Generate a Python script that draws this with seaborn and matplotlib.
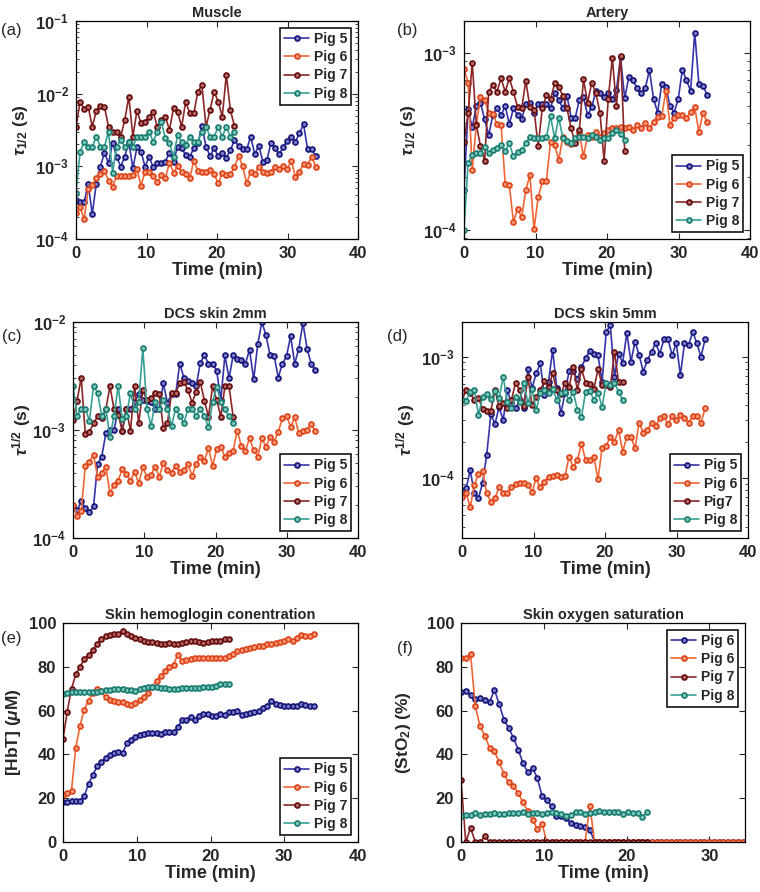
import numpy as np
import pandas as pd
import seaborn as sns
import matplotlib.pyplot as plt
from matplotlib.ticker import LogLocator, NullFormatter, FixedLocator

# ---- data (time step between scans ~0.576 min) ----
scan_dt = 34 / 59
pigs = ["Pig 5", "Pig 6", "Pig 7", "Pig 8"]

# (a) Muscle, tau_1/2 (s)
muscle_p5 = [3.4e-4, 3.2e-4, 3.2e-4, 5.8e-4, 2.2e-4, 5.8e-4, 9.9e-4, 1.54e-3, 1.1e-3, 2.12e-3,
             1.36e-3, 9.9e-4, 1.36e-3, 2.18e-3, 9.4e-4, 1.82e-3, 1.59e-3, 9.9e-4, 1.36e-3, 9.7e-4,
             1.1e-3, 1.1e-3, 1.16e-3, 1.54e-3, 1.16e-3, 1.87e-3, 1.77e-3, 1.43e-3, 1.36e-3, 1.77e-3,
             2.07e-3, 3.59e-3, 1.87e-3, 1.39e-3, 1.77e-3, 1.39e-3, 1.54e-3, 1.32e-3, 1.66e-3, 2.3e-3,
             1.91e-3, 1.71e-3, 1.71e-3, 2.56e-3, 1.48e-3, 1.91e-3, 1.16e-3, 1.22e-3, 2.12e-3, 1.77e-3,
             1.48e-3, 1.82e-3, 2.26e-3, 2.56e-3, 2.18e-3, 2.84e-3, 3.83e-3, 1.71e-3, 1.71e-3, 1.39e-3]
muscle_p6 = [2.3e-4, 2.73e-4, 1.87e-4, 4.82e-4, 5.53e-4, 6.84e-4, 7.84e-4, 8.71e-4, 6.35e-4, 5.25e-4,
             7.36e-4, 7.36e-4, 7.36e-4, 7.36e-4, 7.6e-4, 9.1e-4, 5.42e-4, 8.45e-4, 8.45e-4, 7.36e-4,
             6.03e-4, 7.6e-4, 6.84e-4, 1.12e-3, 8.2e-4, 1.01e-3, 8.45e-4, 7.76e-4, 6.84e-4, 1.2e-3,
             8.71e-4, 8.45e-4, 8.45e-4, 8.9e-4, 7.84e-4, 5.83e-4, 8.0e-4, 7.6e-4, 7.84e-4, 9.7e-4,
             1.39e-3, 1.01e-3, 5.83e-4, 8.45e-4, 7.84e-4, 9.9e-4, 8.45e-4, 8.2e-4, 8.45e-4, 9.7e-4,
             9.1e-4, 1.01e-3, 9.1e-4, 1.2e-3, 7.2e-4, 8.45e-4, 1.08e-3, 1.04e-3, 1.36e-3, 9.9e-4]
muscle_p7 = [3.44e-3, 7.76e-3, 6.08e-3, 6.62e-3, 3.51e-3, 5.77e-3, 6.76e-3, 6.62e-3, 3.51e-3, 3.0e-3,
             2.94e-3, 2.56e-3, 4.34e-3, 9.1e-3, 2.56e-3, 5.83e-3, 3.91e-3, 4.12e-3, 4.82e-3, 5.65e-3,
             3.51e-3, 4.34e-3, 4.82e-3, 3.16e-3, 6.28e-3, 5.65e-3, 3.51e-3, 7.76e-3, 5.36e-3, 5.36e-3,
             1.07e-2, 1.30e-2, 3.51e-3, 5.96e-3, 1.07e-2, 7.76e-3, 4.82e-3, 1.81e-2, 5.96e-3, 3.59e-3]
muscle_p8 = [4.35e-4, 1.56e-3, 2.18e-3, 1.87e-3, 1.87e-3, 2.56e-3, 1.87e-3, 1.87e-3, 3.0e-3, 8.2e-4,
             1.87e-3, 2.3e-3, 1.87e-3, 2.18e-3, 1.87e-3, 2.56e-3, 2.56e-3, 2.56e-3, 3.0e-3, 2.18e-3,
             3.0e-3, 4.1e-3, 2.43e-3, 2.07e-3, 1.36e-3, 2.7e-3, 2.18e-3, 1.97e-3, 2.56e-3, 2.18e-3,
             2.18e-3, 3.0e-3, 3.5e-3, 2.56e-3, 2.56e-3, 3.5e-3, 2.56e-3, 3.5e-3, 2.56e-3, 3.0e-3]

# (b) Artery, tau_1/2 (s)
artery_p5 = [1.68e-4, 4.79e-4, 3.79e-4, 5.0e-4, 5.22e-4, 4.21e-4, 3.43e-4, 4.45e-4, 4.85e-4, 4.45e-4,
             5.0e-4, 3.96e-4, 4.85e-4, 4.45e-4, 4.21e-4, 5.14e-4, 5.22e-4, 4.55e-4, 5.14e-4, 5.14e-4,
             5.14e-4, 4.85e-4, 5.94e-4, 5.41e-4, 4.85e-4, 5.7e-4, 4.31e-4, 4.31e-4, 5.41e-4, 5.6e-4,
             4.45e-4, 4.92e-4, 6.1e-4, 5.9e-4, 5.6e-4, 5.94e-4, 5.46e-4, 6.16e-4, 9.4e-4, 5.52e-4,
             7.3e-4, 7.0e-4, 6.3e-4, 5.9e-4, 6.3e-4, 8.0e-4, 5.5e-4, 4.6e-4, 6.7e-4, 6.4e-4,
             5.0e-4, 4.6e-4, 5.5e-4, 8.0e-4, 7.0e-4, 6.1e-4, 1.3e-3, 6.7e-4, 6.5e-4, 5.8e-4]
artery_p6 = [8.05e-4, 6.78e-4, 2.18e-4, 3.96e-4, 5.6e-4, 5.41e-4, 4.59e-4, 4.51e-4, 3.96e-4, 3.91e-4,
             1.82e-4, 1.79e-4, 1.11e-4, 1.31e-4, 1.18e-4, 1.68e-4, 2.04e-4, 1.01e-4, 1.53e-4, 1.88e-4,
             1.88e-4, 3.15e-4, 3.01e-4, 2.48e-4, 3.36e-4, 3.15e-4, 3.06e-4, 3.24e-4, 3.51e-4, 2.6e-4,
             3.43e-4, 3.33e-4, 3.59e-4, 3.36e-4, 3.54e-4, 3.66e-4, 3.74e-4, 3.74e-4, 3.79e-4, 3.74e-4,
             3.79e-4, 3.66e-4, 3.91e-4, 3.74e-4, 4.0e-4, 3.74e-4, 4.08e-4, 4.35e-4, 4.4e-4, 6.1e-4,
             3.91e-4, 4.27e-4, 4.45e-4, 4.45e-4, 4.27e-4, 4.65e-4, 4.92e-4, 3.59e-4, 4.55e-4, 4.08e-4]
artery_p7 = [3.15e-4, 4.55e-4, 8.78e-4, 3.91e-4, 2.98e-4, 2.46e-4, 6.03e-4, 6.57e-4, 6.03e-4, 7.17e-4,
             6.03e-4, 7.17e-4, 6.03e-4, 4.92e-4, 4.85e-4, 6.95e-4, 4.92e-4, 4.75e-4, 2.98e-4, 4.85e-4,
             5.77e-4, 5.46e-4, 6.71e-4, 6.43e-4, 5.7e-4, 4.85e-4, 3.74e-4, 3.08e-4, 3.66e-4, 7.08e-4,
             5.22e-4, 6.78e-4, 5.94e-4, 4.59e-4, 2.46e-4, 5.46e-4, 9.3e-4, 5.0e-4, 9.6e-4, 2.8e-4]
artery_p8 = [1.0e-4, 2.4e-4, 2.65e-4, 2.73e-4, 2.73e-4, 2.95e-4, 2.73e-4, 2.82e-4, 2.92e-4, 3.01e-4,
             2.8e-4, 3.08e-4, 2.6e-4, 2.77e-4, 2.82e-4, 3.1e-4, 3.33e-4, 3.29e-4, 3.29e-4, 3.29e-4,
             3.33e-4, 4.4e-4, 3.29e-4, 4.3e-4, 3.29e-4, 3.19e-4, 3.1e-4, 3.29e-4, 3.33e-4, 3.33e-4,
             3.29e-4, 3.43e-4, 3.33e-4, 3.24e-4, 3.29e-4, 3.29e-4, 3.51e-4, 3.66e-4, 3.47e-4, 3.24e-4]

# (c) DCS skin 2mm
skin2_p5 = [1.96e-4, 1.8e-4, 2.18e-4, 1.89e-4, 1.73e-4, 1.96e-4, 4.85e-4, 5.67e-4, 9.31e-4, 1.0e-3,
            1.0e-3, 1.55e-3, 9.86e-4, 1.55e-3, 1.55e-3, 1.83e-3, 2.15e-3, 1.89e-3, 1.87e-3, 1.83e-3,
            1.55e-3, 1.58e-3, 2.7e-3, 1.79e-3, 2.15e-3, 2.15e-3, 4.12e-3, 3.06e-3, 2.85e-3, 2.73e-3,
            2.55e-3, 4.18e-3, 4.92e-3, 4.12e-3, 4.12e-3, 3.53e-3, 1.89e-3, 4.92e-3, 3.0e-3, 4.92e-3,
            4.59e-3, 4.49e-3, 4.12e-3, 5.56e-3, 2.94e-3, 6.22e-3, 1.0e-2, 7.53e-3, 4.92e-3, 4.82e-3,
            3.06e-3, 4.12e-3, 4.82e-3, 7.38e-3, 4.12e-3, 5.68e-3, 9.8e-3, 5.68e-3, 4.12e-3, 3.63e-3]
skin2_p6 = [2.03e-4, 1.61e-4, 1.76e-4, 4.66e-4, 5.1e-4, 5.88e-4, 3.7e-4, 4.04e-4, 4.59e-4, 2.6e-4,
            3.1e-4, 3.4e-4, 4.34e-4, 3.93e-4, 3.4e-4, 4.12e-4, 3.22e-4, 4.52e-4, 3.7e-4, 3.85e-4,
            4.59e-4, 3.7e-4, 4.92e-4, 4.22e-4, 4.04e-4, 4.66e-4, 4.12e-4, 4.27e-4, 4.85e-4, 3.76e-4,
            4.85e-4, 5.67e-4, 5.21e-4, 6.78e-4, 4.66e-4, 6.64e-4, 7.02e-4, 5.67e-4, 6.18e-4, 6.45e-4,
            9.86e-4, 7.1e-4, 6.45e-4, 8.37e-4, 6.53e-4, 5.67e-4, 8.37e-4, 7.02e-4, 8.67e-4, 7.8e-4,
            9.66e-4, 1.28e-3, 1.35e-3, 1.07e-3, 1.31e-3, 9.31e-4, 9.86e-4, 1.01e-3, 1.14e-3, 9.86e-4]
skin2_p7 = [1.25e-3, 1.87e-3, 3.06e-3, 9.18e-4, 9.66e-4, 1.15e-3, 1.35e-3, 1.28e-3, 1.55e-3, 2.55e-3,
            1.55e-3, 1.38e-3, 9.86e-4, 1.55e-3, 9.86e-4, 2.55e-3, 1.15e-3, 2.34e-3, 1.89e-3, 1.96e-3,
            2.18e-3, 2.15e-3, 1.04e-3, 1.15e-3, 2.21e-3, 2.21e-3, 2.7e-3, 2.79e-3, 2.34e-3, 1.79e-3,
            2.26e-3, 2.79e-3, 1.87e-3, 1.33e-3, 2.55e-3, 1.89e-3, 1.33e-3, 2.55e-3, 2.55e-3, 1.33e-3]
skin2_p8 = [2.55e-3, 1.35e-3, 1.58e-3, 1.58e-3, 1.22e-3, 2.55e-3, 2.21e-3, 1.35e-3, 1.58e-3, 8.55e-4,
            1.35e-3, 2.55e-3, 1.26e-3, 1.35e-3, 2.21e-3, 1.58e-3, 1.83e-3, 5.7e-3, 1.58e-3, 1.09e-3,
            1.83e-3, 1.58e-3, 1.89e-3, 1.58e-3, 1.09e-3, 1.58e-3, 1.35e-3, 1.15e-3, 1.58e-3, 1.58e-3,
            1.35e-3, 1.58e-3, 1.35e-3, 1.06e-3, 1.83e-3, 2.5e-3, 1.83e-3, 1.55e-3, 1.35e-3, 1.15e-3]

# (d) DCS skin 5mm
skin5_p5 = [7.92e-5, 8.28e-5, 1.16e-4, 7.54e-5, 6.86e-5, 9.2e-5, 1.56e-4, 3.36e-4, 2.8e-4, 3.84e-4,
            3.01e-4, 5.32e-4, 4.13e-4, 3.76e-4, 4.4e-4, 3.76e-4, 7.87e-4, 5.5e-4, 7.3e-4, 8.81e-4,
            4.84e-4, 6.23e-4, 1.14e-3, 5.5e-4, 3.42e-4, 5.0e-4, 7.67e-4, 7.67e-4, 6.52e-4, 8.28e-4,
            9.69e-4, 1.12e-3, 1.06e-3, 1.03e-3, 6.23e-4, 1.6e-3, 1.82e-3, 6.85e-4, 1.06e-3, 8.93e-4,
            1.57e-3, 9.1e-4, 1.33e-3, 1.03e-3, 7.53e-4, 9.4e-4, 1.1e-3, 1.29e-3, 1.06e-3, 1.39e-3,
            1.39e-3, 1.03e-3, 1.29e-3, 7.07e-4, 1.29e-3, 1.25e-3, 1.6e-3, 1.29e-3, 1.0e-3, 1.39e-3]
skin5_p6 = [7.06e-5, 7.62e-5, 5.78e-5, 8.81e-5, 1.09e-4, 1.14e-4, 7.54e-5, 6.43e-5, 6.86e-5, 8.43e-5,
            7.62e-5, 7.62e-5, 8.55e-5, 8.97e-5, 9.2e-5, 9.2e-5, 8.81e-5, 7.76e-5, 1.0e-4, 8.43e-5,
            9.4e-5, 1.03e-4, 1.05e-4, 1.06e-4, 1.02e-4, 1.05e-4, 1.51e-4, 1.23e-4, 1.42e-4, 1.91e-4,
            1.42e-4, 1.42e-4, 1.51e-4, 9.82e-5, 1.77e-4, 1.85e-4, 2.2e-4, 2.0e-4, 2.49e-4, 1.66e-4,
            2.2e-4, 2.2e-4, 1.77e-4, 2.87e-4, 2.37e-4, 2.49e-4, 2.87e-4, 2.69e-4, 3.11e-4, 3.25e-4,
            2.8e-4, 3.25e-4, 3.01e-4, 3.32e-4, 3.11e-4, 2.87e-4, 3.25e-4, 3.25e-4, 2.87e-4, 3.76e-4]
skin5_p7 = [4.4e-4, 5.3e-4, 5.0e-4, 4.4e-4, 4.6e-4, 3.7e-4, 3.6e-4, 3.6e-4, 5.3e-4, 3.9e-4,
            4.2e-4, 3.8e-4, 4.4e-4, 6.1e-4, 5.3e-4, 3.9e-4, 6.8e-4, 4.0e-4, 4.7e-4, 5.3e-4,
            6.3e-4, 5.6e-4, 7.3e-4, 5.3e-4, 4.9e-4, 6.1e-4, 5.6e-4, 8.3e-4, 5.3e-4, 7.9e-4,
            6.1e-4, 6.0e-4, 5.4e-4, 7.9e-4, 5.9e-4, 5.9e-4, 5.6e-4, 1.1e-3, 6.2e-4, 6.2e-4]
skin5_p8 = [4.4e-4, 4.35e-4, 5.15e-4, 5.32e-4, 3.32e-4, 4.63e-4, 4.93e-4, 4.46e-4, 5.26e-4, 4.55e-4,
            6.85e-4, 4.27e-4, 3.76e-4, 4.63e-4, 4.27e-4, 6.11e-4, 4.18e-4, 5.39e-4, 3.65e-4, 5.0e-4,
            5.32e-4, 5.06e-4, 5.39e-4, 4.4e-4, 5.06e-4, 5.15e-4, 4.4e-4, 5.15e-4, 3.65e-4, 3.21e-4,
            5.15e-4, 5.26e-4, 4.4e-4, 5.06e-4, 3.88e-4, 6.11e-4, 5.85e-4, 6.11e-4, 5.15e-4, 4.4e-4]

# (e) skin total hemoglobin, uM
hbt_p5 = [18.3, 18.3, 18.5, 18.6, 18.5, 21.0, 26.5, 30.5, 34.5, 36.5,
          38.5, 39.5, 40.5, 41.2, 40.5, 45.0, 46.5, 48.0, 49.0, 49.5,
          50.0, 50.0, 50.0, 49.3, 50.2, 50.2, 50.2, 52.5, 55.5, 55.5,
          57.0, 55.5, 57.5, 58.5, 58.5, 57.5, 57.5, 58.5, 58.0, 59.5,
          59.5, 60.0, 58.0, 58.5, 59.0, 59.5, 60.0, 61.0, 62.0, 64.5,
          63.0, 62.5, 62.3, 62.3, 62.3, 62.3, 62.8, 62.6, 62.3, 62.0]
hbt_p6 = [21.5, 22.5, 23.5, 43.0, 53.0, 60.5, 64.5, 68.0, 70.0, 69.0,
          66.0, 65.0, 64.5, 64.0, 64.0, 63.0, 62.5, 63.5, 65.0, 66.0,
          68.0, 71.0, 73.5, 76.0, 78.0, 80.0, 81.0, 85.5, 82.5, 83.0,
          83.5, 83.8, 84.0, 84.0, 84.2, 84.0, 84.0, 84.0, 84.0, 85.0,
          86.0, 87.0, 87.5, 88.2, 88.5, 89.0, 89.5, 89.5, 90.5, 90.5,
          91.0, 91.5, 92.0, 92.5, 92.0, 93.0, 94.5, 94.0, 94.0, 95.0]
hbt_p7 = [47.0, 59.5, 70.0, 76.5, 80.0, 83.5, 85.5, 87.5, 90.5, 92.5,
          94.0, 94.5, 95.0, 95.0, 96.5, 95.0, 94.0, 93.0, 92.5, 92.0,
          91.5, 91.5, 91.0, 90.5, 90.5, 91.0, 90.5, 90.5, 91.0, 91.5,
          92.0, 92.0, 91.5, 91.0, 91.5, 92.0, 92.0, 92.0, 92.5, 92.5]
hbt_p8 = [67.5, 68.0, 68.5, 68.5, 68.7, 68.7, 68.5, 68.5, 68.7, 69.0,
          69.5, 69.5, 70.0, 70.0, 69.7, 69.5, 69.5, 69.0, 70.0, 70.5,
          70.7, 70.7, 71.0, 70.5, 70.5, 70.0, 70.0, 70.0, 70.3, 70.3,
          70.3, 70.5, 70.5, 70.8, 71.0, 71.0, 71.2, 72.0, 72.3, 72.3]

# (f) skin oxygen saturation, %
sto2_p5 = [68.3, 68.8, 67.3, 65.3, 65.8, 65.0, 63.8, 69.6, 63.0, 55.9,
           52.0, 47.5, 42.2, 36.0, 31.8, 33.8, 29.2, 20.9, 19.0, 16.3,
           12.0, 11.7, 11.0, 8.7, 7.9, 7.2, 6.7, 5.6, 0.0, 0.0,
           0.0, 0.0, 0.0, 0.0, 0.0, 0.0, 0.0, 0.0, 0.0, 0.0,
           0.0, 0.0, 0.0, 0.0, 0.0, 0.0, 0.0, 0.0, 0.0, 0.0,
           0.0, 0.0, 0.0, 0.0, 0.0, 0.0, 0.0, 0.0, 0.0, 0.0]
sto2_p6 = [84.0, 84.0, 86.0, 62.0, 52.8, 48.5, 42.9, 41.4, 36.5, 31.0,
           27.2, 25.4, 22.4, 18.1, 14.0, 10.2, 5.9, 8.2, 0.0, 0.0,
           0.0, 0.0, 0.0, 0.0, 0.0, 0.0, 0.0, 16.5, 0.0, 0.0,
           0.0, 0.0, 0.0, 0.0, 0.0, 0.0, 0.0, 0.0, 0.0, 0.0,
           0.0, 0.0, 0.0, 0.0, 0.0, 0.0, 0.0, 0.0, 0.0, 0.0,
           0.0, 0.0, 0.0, 0.0, 0.0, 0.0, 0.0, 0.0, 0.0, 0.0]
sto2_p7 = [28.2, 0.0, 6.4, 0.0, 0.0, 2.6, 0.0, 0.0, 0.0, 0.0,
           0.0, 0.0, 0.0, 0.0, 0.0, 0.0, 0.0, 0.0, 0.0, 0.0,
           0.0, 0.0, 0.0, 0.0, 0.0, 0.0, 0.0, 0.0, 0.0, 0.0,
           0.0, 0.0, 0.0, 0.0, 0.0, 0.0, 0.0, 0.0, 0.0, 0.0]
sto2_p8 = [11.9, 12.3, 12.3, 13.2, 12.3, 12.9, 12.9, 13.2, 12.6, 12.6,
           13.2, 13.2, 13.2, 13.5, 12.9, 13.2, 13.2, 12.9, 13.2, 13.5,
           13.2, 12.6, 11.8, 12.3, 13.5, 13.5, 12.9, 13.2, 13.5, 14.0,
           13.5, 13.5, 13.8, 13.5, 12.9, 13.5, 13.2, 13.2, 11.2, 13.8]

# line colour, marker edge, marker face per pig
line_cols = ["#3434a6", "#ee6636", "#8a2626", "#36a094"]
edge_cols = ["#16167a", "#de4418", "#660c0c", "#1a7c70"]
face_cols = ["#7c7cc4", "#f59a7c", "#b06868", "#7cc6bb"]

# ---- style ----
sns.set_style("ticks")
plt.rcParams["font.family"] = ["Liberation Sans", "DejaVu Sans"]
plt.rcParams["font.weight"] = "bold"
plt.rcParams["axes.labelweight"] = "bold"
plt.rcParams["axes.titleweight"] = "bold"
plt.rcParams["mathtext.fontset"] = "custom"
plt.rcParams["mathtext.rm"] = "Liberation Sans:bold"
plt.rcParams["mathtext.bf"] = "Liberation Sans:bold"
plt.rcParams["mathtext.it"] = "Liberation Sans:italic"
plt.rcParams["axes.linewidth"] = 0.9
plt.rcParams["axes.edgecolor"] = "black"

W, H = 760, 892
fig = plt.figure(figsize=(W / 100, H / 100), dpi=100)


def add_panel(left, top, right, bottom):
    return fig.add_axes([left / W, 1 - bottom / H, (right - left) / W, (bottom - top) / H])


def draw(ax, series, names, log=False):
    if log:
        ax.set_yscale("log")
    for i, vals in enumerate(series):
        t = np.arange(len(vals)) * scan_dt
        sns.lineplot(x=t, y=vals, ax=ax, color=line_cols[i], lw=1.2,
                     marker="o", ms=3.6, mew=1.2, mec=edge_cols[i], mfc=face_cols[i],
                     label=names[i], estimator=None)


def finish(ax, title, ylabel, ylab_x, xlim, ylim, legend_loc, log=False, xticks=None):
    ax.set_xlim(*xlim)
    ax.set_ylim(*ylim)
    ax.set_title(title, fontsize=10.5, pad=3)
    ax.set_xlabel("Time (min)", fontsize=13, labelpad=1)
    ax.set_ylabel(ylabel, fontsize=12.5)
    ax.yaxis.set_label_coords(ylab_x, 0.5)
    if xticks is not None:
        ax.xaxis.set_major_locator(FixedLocator(xticks))
    if log:
        ax.yaxis.set_major_locator(LogLocator(base=10, numticks=10))
        ax.yaxis.set_minor_locator(LogLocator(base=10, subs=np.arange(2, 10), numticks=20))
        ax.yaxis.set_minor_formatter(NullFormatter())
    ax.tick_params(which="major", direction="in", length=4, width=0.8, top=True, right=True,
                   labelsize=12, pad=5)
    ax.tick_params(which="minor", direction="in", length=2.2, width=0.6, top=True, right=True)
    for lab in ax.get_xticklabels() + ax.get_yticklabels():
        lab.set_fontweight("bold")
    leg = ax.legend(loc=legend_loc, frameon=True, fancybox=False, edgecolor="black",
                    framealpha=1, fontsize=10, handlelength=1.8, handletextpad=0.3,
                    borderpad=0.3, labelspacing=0.3, borderaxespad=0.5)
    leg.get_frame().set_linewidth(1.1)
    for txt in leg.get_texts():
        txt.set_fontweight("bold")


tau_sub = r"$\tau_{\mathbf{1/2}}$ (s)"
tau_sup = r"$\tau^{\mathbf{1/2}}$ (s)"

# (a)
ax = add_panel(76, 21, 358, 239)
draw(ax, [muscle_p5, muscle_p6, muscle_p7, muscle_p8], pigs, log=True)
finish(ax, "Muscle", tau_sub, -0.163, (0, 40), (1e-4, 1e-1), "upper right", log=True)

# (b)
ax = add_panel(464, 21, 750, 239)
draw(ax, [artery_p5, artery_p6, artery_p7, artery_p8], pigs, log=True)
finish(ax, "Artery", tau_sub, -0.161, (0, 40), (8.9e-5, 1.51e-3), "lower right", log=True)

# (c)
ax = add_panel(73, 322, 358, 538)
draw(ax, [skin2_p5, skin2_p6, skin2_p7, skin2_p8], pigs, log=True)
finish(ax, "DCS skin 2mm", tau_sup, -0.140, (0, 40), (1e-4, 1e-2), "lower right", log=True)

# (d)
ax = add_panel(462, 322, 748, 538)
draw(ax, [skin5_p5, skin5_p6, skin5_p7, skin5_p8], ["Pig 5", "Pig 6", "Pig7", "Pig 8"], log=True)
finish(ax, "DCS skin 5mm", tau_sup, -0.157, (0, 40), (3.23e-5, 1.93e-3), "lower right", log=True)

# (e)
ax = add_panel(63, 623, 358, 842)
draw(ax, [hbt_p5, hbt_p6, hbt_p7, hbt_p8], pigs)
finish(ax, "Skin hemoglogin conentration", r"[HbT] ($\mu$M)", -0.136, (0, 40), (0, 100),
       "lower right")

# (f)
ax = add_panel(461, 623, 745, 842)
draw(ax, [sto2_p5, sto2_p6, sto2_p7, sto2_p8], ["Pig 6", "Pig 6", "Pig 7", "Pig 8"])
finish(ax, "Skin oxygen saturation", r"(StO$_\mathbf{2}$) (%)", -0.169, (0, 34.3), (0, 100),
       "upper right", xticks=[0, 10, 20, 30])

# panel letters
for lab, x, y in [("(a)", 1, 31), ("(b)", 397, 30), ("(c)", 2, 337),
                  ("(d)", 387, 336), ("(e)", 1, 638), ("(f)", 397, 648)]:
    fig.text(x / W, 1 - y / H, lab, fontsize=12, fontweight="normal", ha="left", va="center")

fig.savefig("out.png", dpi=100)
